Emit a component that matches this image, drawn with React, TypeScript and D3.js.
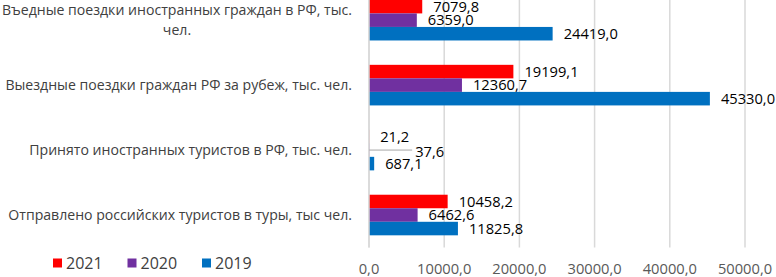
import React, { useEffect, useRef } from "react";
import * as d3 from "d3";

const categories = [
  "Въедные поездки иностранных граждан в РФ, тыс. чел.",
  "Выездные поездки граждан РФ за рубеж, тыс. чел.",
  "Принято иностранных туристов в РФ, тыс. чел.",
  "Отправлено российских туристов в туры, тыс чел.",
];
const seriesNames = ["2021", "2020", "2019"];
const values2021 = [7079.8, 19199.1, 21.2, 10458.2];
const values2020 = [6359.0, 12360.7, 37.6, 6462.6];
const values2019 = [24419.0, 45330.0, 687.1, 11825.8];
const seriesColors = ["#FF0000", "#7030A0", "#0070C0"];
const xTicks = [0, 10000, 20000, 30000, 40000, 50000];

const W = 776;
const H = 277;
const FONT = "'Open Sans', sans-serif";

export default function App() {
  const ref = useRef<SVGSVGElement | null>(null);

  useEffect(() => {
    const svg = d3.select(ref.current);
    svg.selectAll("*").remove();

    const series = [values2021, values2020, values2019];
    const x0 = 369;
    const x = d3.scaleLinear().domain([0, 50000]).range([x0, 745]);
    const plotTop = -12.3;
    const plotBottom = 247.5;
    const gap = 1.8 / 4.8;
    const y = d3
      .scaleBand<string>()
      .domain(categories)
      .range([plotTop, plotBottom])
      .paddingInner(gap)
      .paddingOuter(gap / 2);
    const yi = d3
      .scaleBand<string>()
      .domain(seriesNames)
      .range([0, y.bandwidth()]);

    const fmt = (v: number) => d3.format(".1f")(v).replace(".", ",");

    // gridlines
    svg
      .append("g")
      .selectAll("line")
      .data(xTicks)
      .join("line")
      .attr("x1", (d) => x(d))
      .attr("x2", (d) => x(d))
      .attr("y1", plotTop)
      .attr("y2", plotBottom)
      .attr("stroke", "#D9D9D9")
      .attr("stroke-width", 1.5);

    // bars
    const g = svg.append("g");
    series.forEach((vals, si) => {
      g.selectAll(null)
        .data(vals)
        .join("rect")
        .attr("x", x(0))
        .attr("y", (_d, i) => (y(categories[i]) as number) + (yi(seriesNames[si]) as number))
        .attr("width", (d) => Math.max(0, x(d) - x(0)))
        .attr("height", yi.bandwidth())
        .attr("fill", seriesColors[si]);
    });

    // axis line
    svg
      .append("line")
      .attr("x1", x(0))
      .attr("x2", x(0))
      .attr("y1", plotTop)
      .attr("y2", plotBottom)
      .attr("stroke", "#D9D9D9")
      .attr("stroke-width", 1.5);

    // data labels
    const labels = svg.append("g").attr("font-family", FONT).attr("font-size", 14.7).attr("fill", "#000");
    categories.forEach((c, ci) => {
      let prevEnd = 0;
      let prevTiny = false;
      series.forEach((vals, si) => {
        const v = vals[ci];
        const barEnd = x(v);
        const cy = (y(c) as number) + (yi(seriesNames[si]) as number) + yi.bandwidth() / 2;
        const tiny = barEnd - x(0) < 5;
        let lx = barEnd + 11;
        let ly = cy;
        if (tiny && prevTiny) {
          lx = prevEnd + 6;
          ly = cy + 1.5;
          svg
            .append("line")
            .attr("x1", barEnd)
            .attr("x2", lx - 3)
            .attr("y1", cy)
            .attr("y2", cy)
            .attr("stroke", "#A6A6A6")
            .attr("stroke-width", 1);
        }
        const t = labels
          .append("text")
          .attr("x", lx)
          .attr("y", ly)
          .attr("dy", "0.35em")
          .text(fmt(v));
        const node = t.node() as SVGTextElement;
        prevEnd = lx + node.getComputedTextLength();
        prevTiny = tiny;
      });
    });

    // category labels
    const catG = svg
      .append("g")
      .attr("font-family", FONT)
      .attr("font-size", 14.1)
      .attr("fill", "#404040");
    const labelRight = 352;
    const maxW = 358;
    categories.forEach((c) => {
      const cy = (y(c) as number) + y.bandwidth() / 2;
      const words = c.split(" ");
      const lines: string[] = [];
      const probe = catG.append("text");
      let cur = "";
      words.forEach((w) => {
        const test = cur ? cur + " " + w : w;
        probe.text(test);
        if ((probe.node() as SVGTextElement).getComputedTextLength() > maxW && cur) {
          lines.push(cur);
          cur = w;
        } else {
          cur = test;
        }
      });
      lines.push(cur);
      probe.remove();
      const lh = 20;
      if (lines.length === 1) {
        catG
          .append("text")
          .attr("x", labelRight)
          .attr("y", cy)
          .attr("dy", "0.35em")
          .attr("text-anchor", "end")
          .text(lines[0]);
      } else {
        const widths = lines.map((l) => {
          const p = catG.append("text").text(l);
          const w = (p.node() as SVGTextElement).getComputedTextLength();
          p.remove();
          return w;
        });
        const cx = labelRight - (d3.max(widths) as number) / 2;
        lines.forEach((l, li) => {
          catG
            .append("text")
            .attr("x", cx)
            .attr("y", cy + (li - (lines.length - 1) / 2) * lh)
            .attr("dy", "0.35em")
            .attr("text-anchor", "middle")
            .text(l);
        });
      }
    });

    // x tick labels
    svg
      .append("g")
      .attr("font-family", FONT)
      .attr("font-size", 14.7)
      .attr("fill", "#595959")
      .selectAll("text")
      .data(xTicks)
      .join("text")
      .attr("x", (d) => x(d))
      .attr("y", 268.5)
      .attr("dy", "0.35em")
      .attr("text-anchor", "middle")
      .text((d) => fmt(d));

    // legend
    const leg = svg.append("g").attr("font-family", FONT).attr("font-size", 16).attr("fill", "#404040");
    seriesNames.forEach((s, si) => {
      const lx = 53 + si * 74.5;
      leg
        .append("rect")
        .attr("x", lx)
        .attr("y", 258.5)
        .attr("width", 9)
        .attr("height", 9)
        .attr("fill", seriesColors[si]);
      leg
        .append("text")
        .attr("x", lx + 13)
        .attr("y", 263)
        .attr("dy", "0.35em")
        .text(s);
    });
  }, []);

  return (
    <svg
      ref={ref}
      width={W}
      height={H}
      style={{ position: "absolute", left: 0, top: 0, background: "#fff" }}
    />
  );
}
